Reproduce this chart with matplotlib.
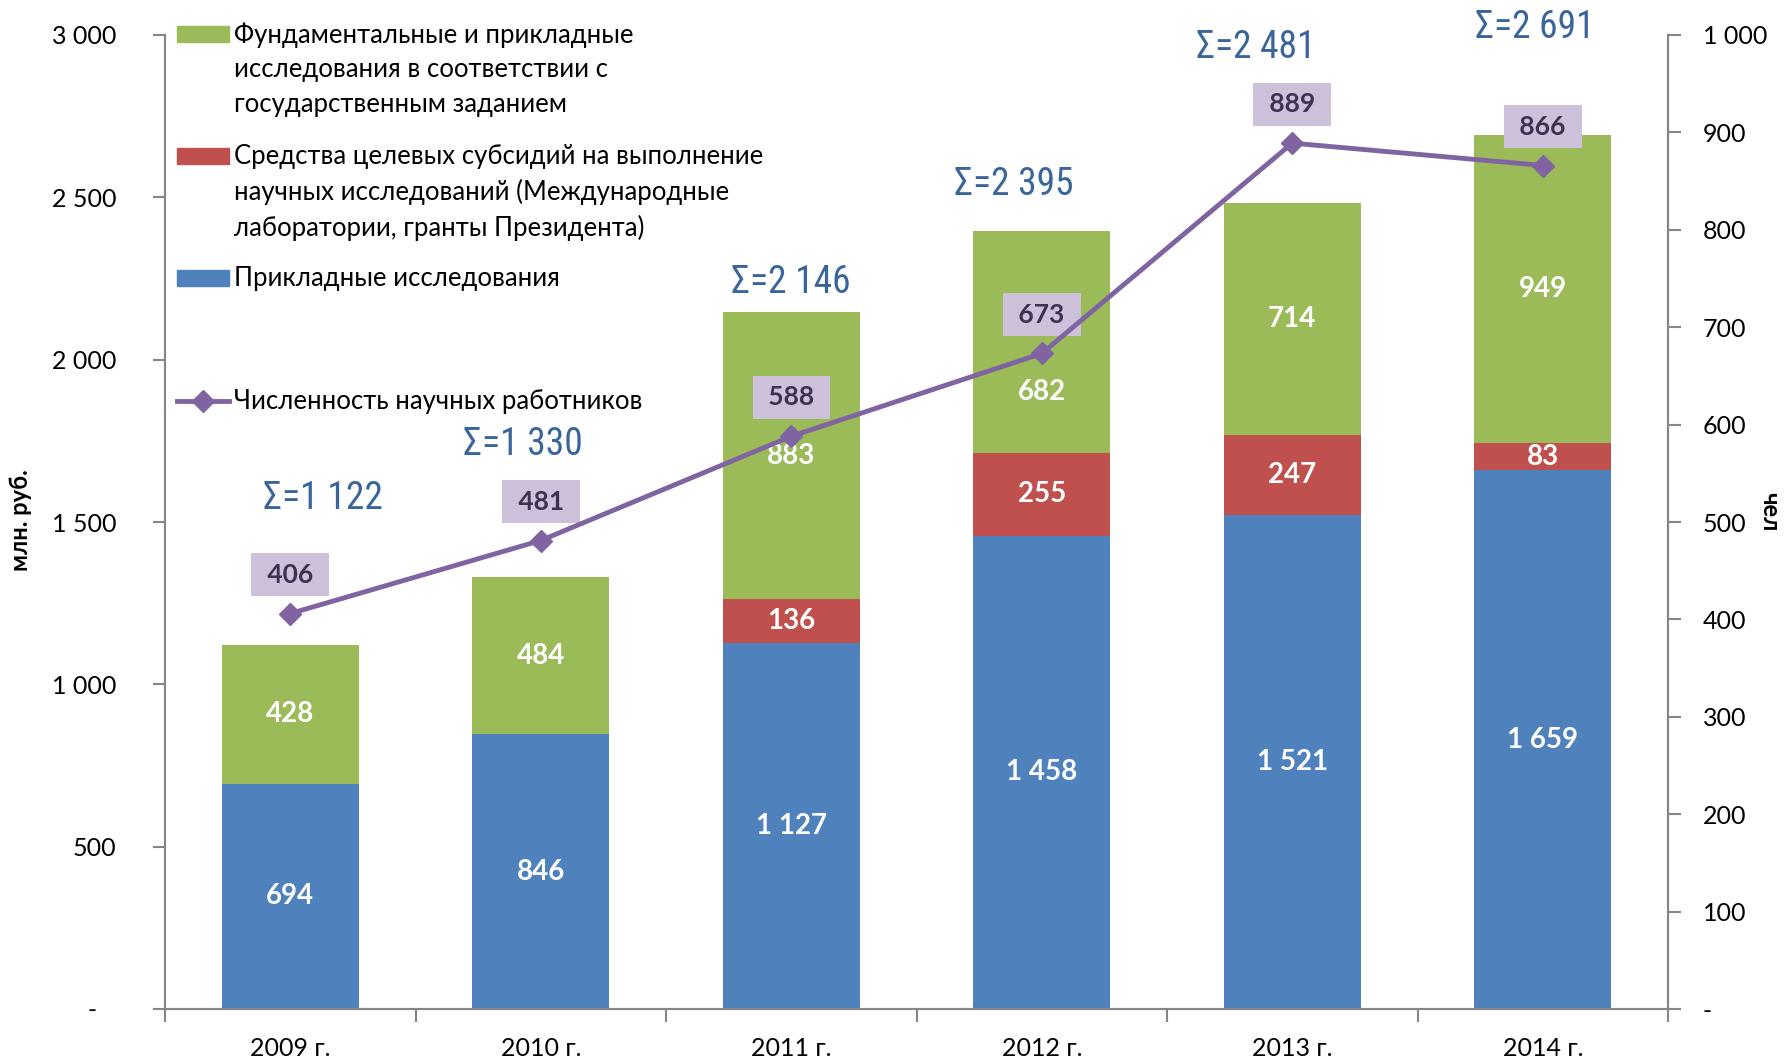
import numpy as np
import matplotlib
matplotlib.use('Agg')
import matplotlib.pyplot as plt
from matplotlib import font_manager
from matplotlib.patches import Rectangle
from matplotlib.lines import Line2D
from matplotlib.ticker import FuncFormatter

plt.rcParams['font.family'] = ['Lato', 'DejaVu Sans']

# узкий шрифт для подписей сумм, если такой есть
names = {f.name for f in font_manager.fontManager.ttflist}
narrow = next((n for n in ['Liberation Sans Narrow', 'Roboto Condensed',
                           'Open Sans Condensed', 'Noto Sans Condensed'] if n in names), 'Lato')

# данные
years = ['2009 г.', '2010 г.', '2011 г.', '2012 г.', '2013 г.', '2014 г.']
applied = [694, 846, 1127, 1458, 1521, 1659]          # Прикладные исследования
subsidies = [0, 0, 136, 255, 247, 83]                  # Средства целевых субсидий
fundamental = [428, 484, 883, 682, 714, 949]           # Фундаментальные и прикладные
totals = [1122, 1330, 2146, 2395, 2481, 2691]          # суммы, как подписаны
staff = [406, 481, 588, 673, 889, 866]                 # Численность научных работников

# ручная раскладка подписей (как в исходнике)
sigma_y = [1572, 1740, 2239, 2540, 2961, 3023]
sigma_dx = [0.13, -0.07, 0.0, -0.11, -0.145, -0.03]
green_dy = [0, 0, 0, -154, 0, 0]

legend_labels = [
    'Фундаментальные и прикладные\nисследования в соответствии с\nгосударственным заданием',
    'Средства целевых субсидий на выполнение\nнаучных исследований (Международные\nлаборатории, гранты Президента)',
    'Прикладные исследования',
    'Численность научных работников',
]

c_blue = '#4F81BD'
c_red = '#C0504D'
c_green = '#9BBB59'
c_line = '#8064A2'
c_sigma = '#3A659B'
c_axis = '#868686'

W, H = 1785, 1060
fig = plt.figure(figsize=(W / 100, H / 100), dpi=100, facecolor='white')
ax = fig.add_axes([165 / W, 51 / H, (1668 - 165) / W, (1009 - 35) / H])
ax2 = ax.twinx()

x = np.arange(len(years))
applied = np.array(applied)
subsidies = np.array(subsidies)
fundamental = np.array(fundamental)
bw = 0.545

ax.bar(x, applied, bw, color=c_blue, zorder=2)
ax.bar(x, subsidies, bw, bottom=applied, color=c_red, zorder=2)
ax.bar(x, fundamental, bw, bottom=applied + subsidies, color=c_green, zorder=2)

def fmt(v):
    return f'{int(v):,}'.replace(',', ' ')

lbl_kw = dict(ha='center', va='center', color='white', fontsize=20, fontweight='bold', zorder=3)
for i in range(len(years)):
    ax.text(x[i], applied[i] / 2, fmt(applied[i]), **lbl_kw)
    if subsidies[i]:
        ax.text(x[i], applied[i] + subsidies[i] / 2, fmt(subsidies[i]), **lbl_kw)
    ax.text(x[i], applied[i] + subsidies[i] + fundamental[i] / 2 + green_dy[i],
            fmt(fundamental[i]), **lbl_kw)

for i, t in enumerate(totals):
    ax.text(x[i] + sigma_dx[i], sigma_y[i], 'Σ=' + fmt(t), ha='center', va='center',
            fontsize=27, color=c_sigma, family=[narrow, 'DejaVu Sans'])

# линия численности
ax2.plot(x, staff, color=c_line, lw=3.5, marker='D', markersize=11, zorder=5)
for i, v in enumerate(staff):
    ax2.annotate(f' {v} ', (x[i], v), xytext=(0, 28), textcoords='offset points',
                 ha='center', va='center', fontsize=19, fontweight='bold', color='#3F3151',
                 bbox=dict(boxstyle='square,pad=0.36', fc='#CCC0DA', ec='none'))

# оси
ax.set_xlim(-0.5, len(years) - 0.5)
ax.set_ylim(0, 3000)
ax2.set_ylim(0, 1000)
ax.set_yticks(np.arange(0, 3001, 500))
ax2.set_yticks(np.arange(0, 1001, 100))
ax.yaxis.set_major_formatter(FuncFormatter(lambda v, p: '-   ' if v == 0 else fmt(v)))
ax2.yaxis.set_major_formatter(FuncFormatter(lambda v, p: '-' if v == 0 else fmt(v)))

ax.set_xticks(np.arange(-0.5, len(years), 1))
ax.set_xticklabels([])
ax.set_xticks(x, minor=True)
ax.set_xticklabels(years, minor=True, fontsize=18)
ax.tick_params(axis='x', which='minor', length=0, pad=20)
ax.tick_params(axis='x', which='major', length=9, width=1.5, color=c_axis)
ax.tick_params(axis='y', length=9, width=1.5, color=c_axis, labelsize=18, pad=26)
ax2.tick_params(axis='y', length=9, width=1.5, color=c_axis, labelsize=18, pad=16)

for a in (ax, ax2):
    a.spines['top'].set_visible(False)
    for s in ('left', 'right', 'bottom'):
        a.spines[s].set_color(c_axis)
        a.spines[s].set_linewidth(1.5)

fig.text(20 / W, 1 - 520 / H, 'млн. руб.', rotation=90, ha='center', va='center',
         fontsize=17, fontweight='bold')
fig.text(1770 / W, 1 - 512 / H, 'чел', rotation=270, ha='center', va='center',
         fontsize=17, fontweight='bold')

# легенда вручную, как в Excel
rows = [34, 156, 278, 401]
colors = [c_green, c_red, c_blue]
for i, lab in enumerate(legend_labels):
    yc = 1 - rows[i] / H
    if i < 3:
        fig.add_artist(Rectangle((177 / W, yc - 8 / H), 52 / W, 16 / H,
                                 transform=fig.transFigure, color=colors[i]))
    else:
        fig.add_artist(Line2D([177 / W, 203 / W, 229 / W], [yc, yc, yc],
                              transform=fig.transFigure, color=c_line, lw=3.5,
                              marker='D', markersize=11, markevery=[1]))
    fig.text(234 / W, yc + 12 / H, lab, ha='left', va='top', fontsize=18.5,
             linespacing=1.48)

fig.savefig('out.png', dpi=100, facecolor='white')
